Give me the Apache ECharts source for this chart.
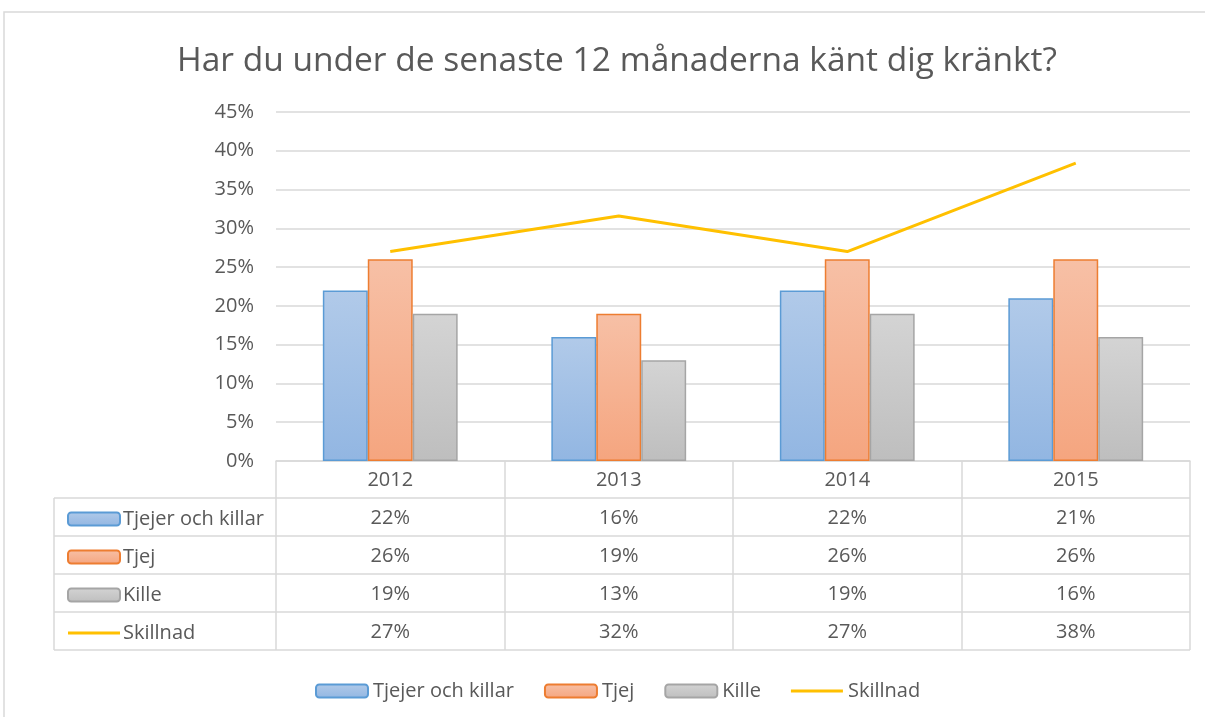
<!DOCTYPE html>
<html>
<head>
<meta charset="utf-8">
<script src="https://cdn.jsdelivr.net/npm/echarts@6/dist/echarts.min.js"></script>
<style>
  html, body { margin: 0; padding: 0; background: #fff; }
  #main { width: 1205px; height: 717px; }
</style>
</head>
<body>
<div id="main"></div>
<script>
// data
var years = ['2012', '2013', '2014', '2015'];
var seriesNames = ['Tjejer och killar', 'Tjej', 'Kille', 'Skillnad'];
var tjejerOchKillar = [22, 16, 22, 21];
var tjej = [26, 19, 26, 26];
var kille = [19, 13, 19, 16];
var skillnad = [27.0, 31.6, 27.0, 38.4];

var textColor = '#595959';
var lineColor = '#d9d9d9';
var font = '"Open Sans", sans-serif';

var chart = echarts.init(document.getElementById('main'));

function grad(top, bottom) {
    return new echarts.graphic.LinearGradient(0, 0, 0, 1, [
        { offset: 0, color: top },
        { offset: 1, color: bottom }
    ]);
}

// legend entries, the line one gets a flat bar as icon
var legendData = seriesNames.map(function (n) {
    if (n === 'Skillnad') return { name: n, icon: 'path://M0,0 L52,0 L52,3 L0,3 Z' };
    return { name: n };
});

// table lines (layout only)
var tableLines = [];
[498, 536, 574, 612, 650].forEach(function (y) {
    tableLines.push({
        type: 'line', silent: true,
        shape: { x1: 54, y1: y, x2: 1190, y2: y },
        style: { stroke: lineColor, lineWidth: 1.5 }
    });
});
tableLines.push({
    type: 'line', silent: true,
    shape: { x1: 54, y1: 498, x2: 54, y2: 650 },
    style: { stroke: lineColor, lineWidth: 1.5 }
});
// outer chart frame
tableLines.push({
    type: 'rect', silent: true,
    shape: { x: 4, y: 12, width: 1400, height: 900 },
    style: { fill: 'none', stroke: lineColor, lineWidth: 1.5 }
});

var allData = [tjejerOchKillar, tjej, kille, skillnad];

var option = {
    backgroundColor: '#fff',
    animation: false,
    title: {
        text: 'Har du under de senaste 12 månaderna känt dig kränkt?',
        left: 612,
        top: 39,
        textAlign: 'center',
        textStyle: { color: textColor, fontSize: 33.5, fontWeight: 'normal', fontFamily: font }
    },
    legend: [
        {
            data: legendData,
            left: 310,
            top: 676,
            itemWidth: 52,
            itemHeight: 13,
            itemGap: 30,
            textStyle: { color: textColor, fontSize: 20, fontFamily: font }
        },
        {
            data: legendData,
            orient: 'vertical',
            left: 62,
            top: 502,
            itemWidth: 52,
            itemHeight: 13,
            itemGap: 14,
            textStyle: { color: textColor, fontSize: 20, lineHeight: 24, fontFamily: font, padding: [0, 0, 0, -2] }
        }
    ],
    grid: { left: 276, right: 15, top: 112, bottom: 256 },
    xAxis: {
        type: 'category',
        data: years,
        axisLine: { lineStyle: { color: lineColor, width: 1.5 } },
        axisTick: { show: true, length: 189, lineStyle: { color: lineColor, width: 1.5 } },
        axisLabel: {
            margin: 0,
            color: textColor,
            fontSize: 20,
            lineHeight: 38,
            fontFamily: font,
            verticalAlign: 'top',
            formatter: function (val, idx) {
                var lines = [val];
                allData.forEach(function (arr) { lines.push(Math.round(arr[idx]) + '%'); });
                return lines.join('\n');
            }
        }
    },
    yAxis: {
        type: 'value',
        min: 0,
        max: 45,
        interval: 5,
        axisLine: { show: false },
        axisTick: { show: false },
        axisLabel: { color: textColor, fontSize: 20, fontFamily: font, margin: 22, formatter: '{value}%' },
        splitLine: { lineStyle: { color: lineColor, width: 1.5 } }
    },
    series: [
        {
            name: 'Tjejer och killar',
            type: 'bar',
            data: tjejerOchKillar,
            barGap: '0%',
            barCategoryGap: '41%',
            itemStyle: { color: grad('#b1cae9', '#92b6e2'), borderColor: '#5b9bd5', borderWidth: 1.5 }
        },
        {
            name: 'Tjej',
            type: 'bar',
            data: tjej,
            itemStyle: { color: grad('#f7c0a6', '#f5a57f'), borderColor: '#ed7d31', borderWidth: 1.5 }
        },
        {
            name: 'Kille',
            type: 'bar',
            data: kille,
            itemStyle: { color: grad('#d4d4d4', '#bebebe'), borderColor: '#a5a5a5', borderWidth: 1.5 }
        },
        {
            name: 'Skillnad',
            type: 'line',
            data: skillnad,
            symbol: 'none',
            lineStyle: { color: '#ffc000', width: 3 },
            itemStyle: { color: '#ffc000' }
        }
    ],
    graphic: tableLines
};

chart.setOption(option);
</script>
</body>
</html>
